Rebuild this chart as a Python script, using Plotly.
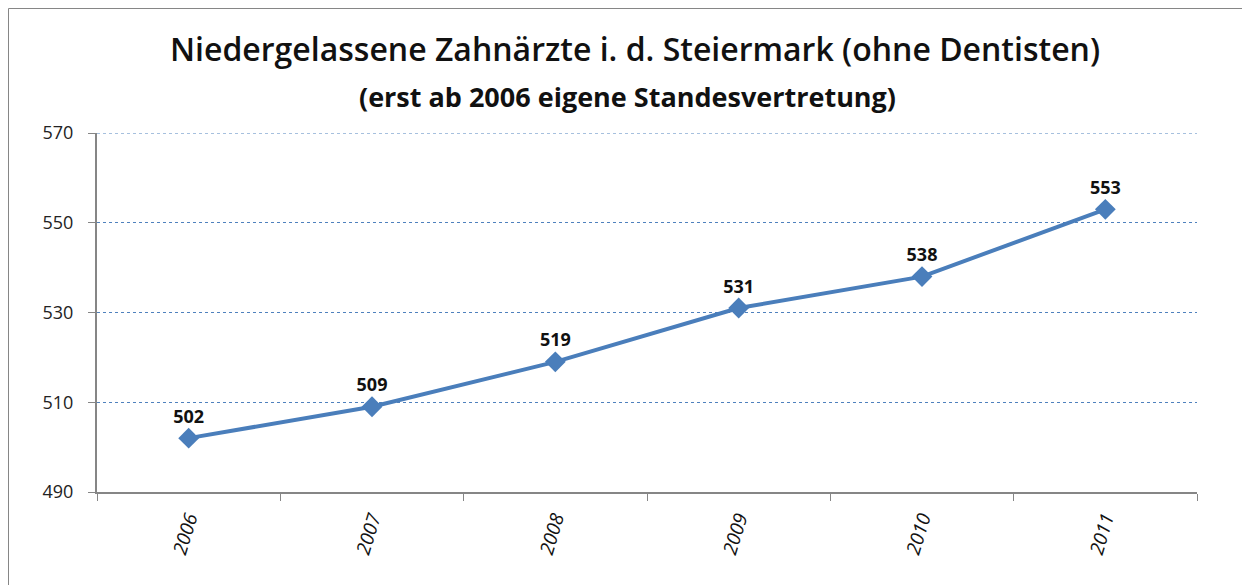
import plotly.graph_objects as go

years = ["2006", "2007", "2008", "2009", "2010", "2011"]
values = [502, 509, 519, 531, 538, 553]
y_ticks = [490, 510, 530, 550, 570]
title = "Niedergelassene Zahnärzte i. d. Steiermark (ohne Dentisten)"
subtitle = "(erst ab 2006 eigene Standesvertretung)"

FONT = "Open Sans, Lato, sans-serif"
W, H = 1250, 585
# page body adds an 8px offset; margins chosen so the plot lands at screen 97..1197 x 133..492
L, R, T, B = 89, 61, 125, 101

fig = go.Figure()
fig.add_trace(go.Scatter(
    x=years, y=values, mode="lines+markers+text",
    line=dict(color="#4A7EBB", width=4),
    marker=dict(symbol="diamond", size=16, color="#4A7EBB"),
    text=[f"<b>{v}</b>" for v in values], textposition="top center",
    textfont=dict(family=FONT, size=18, color="#111111"),
    cliponaxis=False, showlegend=False,
))

fig.update_layout(
    width=W, height=H,
    margin=dict(l=L, r=R, t=T, b=B),
    paper_bgcolor="white", plot_bgcolor="white",
    font=dict(family=FONT, color="#111111"),
    xaxis=dict(
        type="category", tickson="boundaries", ticks="outside", ticklen=7,
        tickcolor="#868686", showline=True, linecolor="#868686", linewidth=2,
        showgrid=False, tickangle=-73, ticklabelstandoff=6,
        tickfont=dict(size=19, color="#111111", family=FONT, style="italic"),
        range=[-0.5, 5.5],
    ),
    yaxis=dict(
        range=[y_ticks[0], y_ticks[-1]], tickvals=y_ticks,
        ticks="outside", ticklen=7, tickcolor="#868686", ticklabelstandoff=11,
        showline=True, linecolor="#868686", linewidth=2,
        showgrid=True, gridcolor="#4F81BD", griddash="dot", gridwidth=1,
        zeroline=False, tickfont=dict(size=18, color="#222222"),
    ),
)

# top gridline (plotly omits the one on the range edge)
fig.add_shape(type="line", xref="paper", yref="y", x0=0, x1=1,
              y0=y_ticks[-1], y1=y_ticks[-1],
              line=dict(color="#4F81BD", width=1, dash="dot"), layer="below")

plot_w = W - L - R
plot_h = H - T - B


def px_x(sx):
    return (sx - 8 - L) / plot_w


def px_y(sy):
    return (H - B - (sy - 8)) / plot_h


fig.add_annotation(text=title, x=px_x(635), y=px_y(48), xref="paper", yref="paper",
                   xanchor="center", yanchor="middle", showarrow=False,
                   font=dict(size=32, color="#111111", weight=600))
fig.add_annotation(text="<b>" + subtitle + "</b>", x=px_x(627), y=px_y(96), xref="paper", yref="paper",
                   xanchor="center", yanchor="middle", showarrow=False,
                   font=dict(size=27, color="#111111"))
fig.add_shape(type="rect", xref="paper", yref="paper",
              x0=px_x(8.5), x1=px_x(1249), y0=px_y(8.5), y1=px_y(640),
              line=dict(color="#868686", width=1), layer="below")

fig.write_html("out.html")
